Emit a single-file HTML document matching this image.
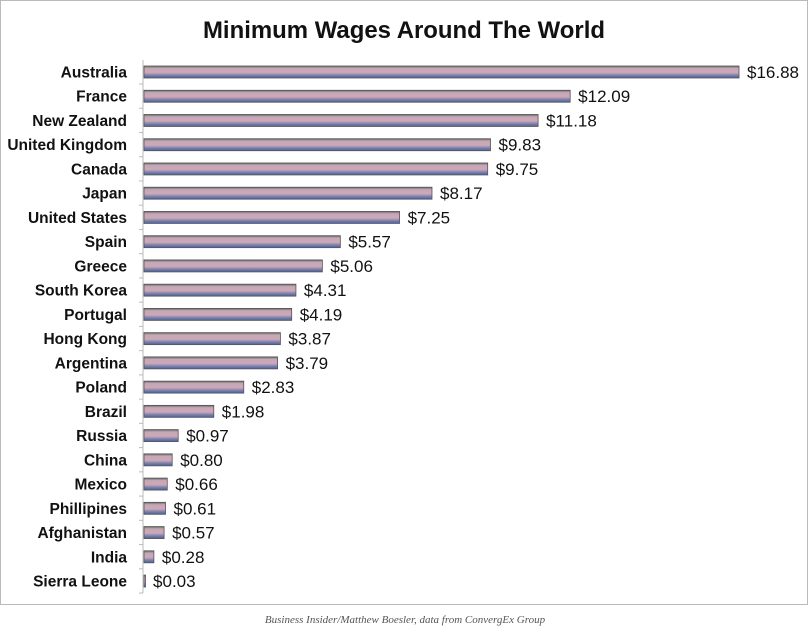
<!DOCTYPE html>
<html><head><meta charset="utf-8"><style>
html,body{margin:0;padding:0;background:#fff;width:810px;height:638px;overflow:hidden}
svg{display:block}
</style></head><body>
<svg width="810" height="638" viewBox="0 0 810 638" xmlns="http://www.w3.org/2000/svg">
<defs>
<linearGradient id="g" x1="0" y1="0" x2="0" y2="1">
<stop offset="0" stop-color="#6e6370"/>
<stop offset="0.2" stop-color="#c8a8b4"/>
<stop offset="0.55" stop-color="#c9a9bd"/>
<stop offset="0.8" stop-color="#6f7fb0"/>
<stop offset="1" stop-color="#5a5f80"/>
</linearGradient>
</defs>
<rect x="0.5" y="0.5" width="807" height="604" fill="#fff" stroke="#777" stroke-width="1" stroke-dasharray="1,1"/>
<text x="404" y="38" text-anchor="middle" font-family="Liberation Sans, sans-serif" font-weight="bold" font-size="24" textLength="402" lengthAdjust="spacingAndGlyphs" fill="#111">Minimum Wages Around The World</text>
<line x1="143" y1="60" x2="143" y2="593" stroke="#bbb" stroke-width="1"/>
<g id="bars" font-family="Liberation Sans, sans-serif" fill="#111"></g>
<text x="405" y="623" text-anchor="middle" font-family="Liberation Serif, serif" font-style="italic" font-size="11" fill="#555">Business Insider/Matthew Boesler, data from ConvergEx Group</text>
</svg>
<script>
var d=[["Australia",16.88],["France",12.09],["New Zealand",11.18],["United Kingdom",9.83],["Canada",9.75],["Japan",8.17],["United States",7.25],["Spain",5.57],["Greece",5.06],["South Korea",4.31],["Portugal",4.19],["Hong Kong",3.87],["Argentina",3.79],["Poland",2.83],["Brazil",1.98],["Russia",0.97],["China",0.80],["Mexico",0.66],["Phillipines",0.61],["Afghanistan",0.57],["India",0.28],["Sierra Leone",0.03]];
var g=document.getElementById('bars'),s='';
d.forEach(function(r,i){var y=72+i*24.24,w=r[1]*35.25;
s+='<line x1="139" y1="'+(y+12)+'" x2="143" y2="'+(y+12)+'" stroke="#bbb"/>';
s+='<text x="127" y="'+(y+5.5)+'" text-anchor="end" font-weight="bold" font-size="15.5">'+r[0]+'</text>';
s+='<rect x="144" y="'+(y-6)+'" width="'+Math.max(w,1.5)+'" height="12" fill="url(#g)" stroke="#555" stroke-width="0.8"/>';
s+='<text x="'+(144+w+8)+'" y="'+(y+6)+'" font-size="17">$'+r[1].toFixed(2)+'</text>';});
g.innerHTML=s;
</script>
</body></html>
